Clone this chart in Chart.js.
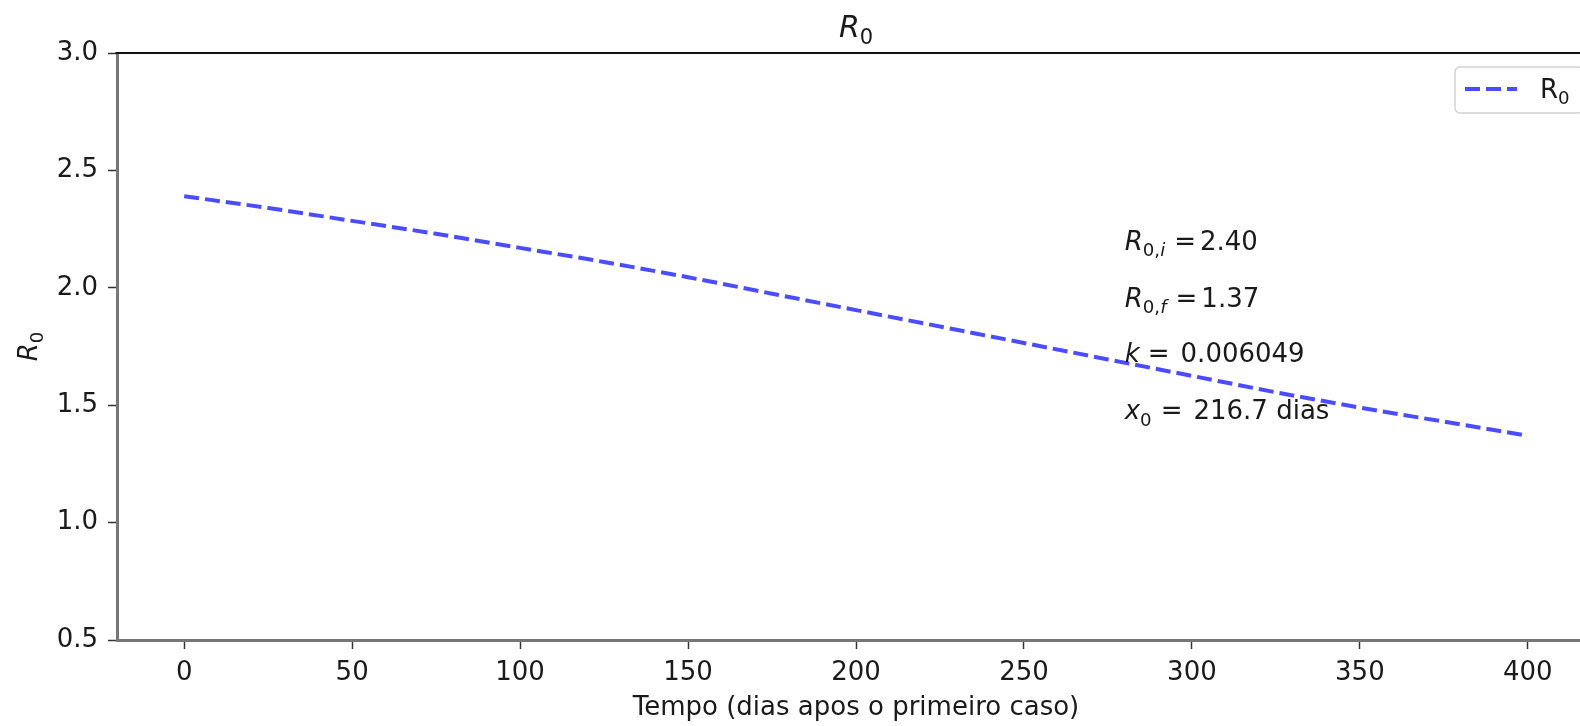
<!DOCTYPE html>
<html>
<head>
<meta charset="utf-8">
<title>R0</title>
<script src="https://cdn.jsdelivr.net/npm/chart.js@4.4.0/dist/chart.umd.min.js"></script>
<style>
    html, body { margin: 0; padding: 0; background: #fff; overflow: hidden; }
    #chart { display: block; }
</style>
</head>
<body>
<canvas id="chart" width="1612" height="726"></canvas>
<script>
// Values
const days = [0, 25, 50, 75, 100, 125, 150, 175, 200, 225, 250, 275, 300, 325, 350, 375, 400];
const r0Values = [2.39, 2.34, 2.285, 2.23, 2.17, 2.11, 2.045, 1.975, 1.905, 1.835, 1.765, 1.695, 1.625, 1.555, 1.49, 1.43, 1.37];
const xTicks = [0, 50, 100, 150, 200, 250, 300, 350, 400];
const yTicks = [0.5, 1.0, 1.5, 2.0, 2.5, 3.0];
const seriesLabel = 'R₀';
const xTitle = 'Tempo (dias apos o primeiro caso)';
const fitValues = ['2.40', '1.37', '0.006049', '216.7 dias'];

const FONT = '"DejaVu Sans"';
const TEXT_COLOR = '#1a1a1a';

// where the fit results sit, in data units
const annoX = 280;
const annoY = [2.16, 1.92, 1.685, 1.44];

// mathtext-like pieces: it = italic, sub = subscript, gap = extra space in px
const annoLines = [
    [{ t: 'R', it: true }, { t: '0,', sub: true }, { t: 'i', it: true, sub: true }, { gap: 9 }, { t: '=' }, { gap: 4 }, { t: fitValues[0] }],
    [{ t: 'R', it: true }, { t: '0,', sub: true }, { t: 'f', it: true, sub: true }, { gap: 9 }, { t: '=' }, { gap: 4 }, { t: fitValues[1] }],
    [{ t: 'k', it: true }, { gap: 8 }, { t: '=' }, { gap: 11 }, { t: fitValues[2] }],
    [{ t: 'x', it: true }, { t: '0', sub: true }, { gap: 9 }, { t: '=' }, { gap: 11 }, { t: fitValues[3] }]
];
const r0Math = [{ t: 'R', it: true }, { t: '0', sub: true }];
const legendMath = [{ t: seriesLabel.charAt(0) }, { t: '0', sub: true }];

function drawRich(ctx, parts, x, y, size, align) {
    const items = parts.map(p => {
        if (p.gap) return { gap: p.gap * size / 26 };
        const sz = p.sub ? size * 0.7 : size;
        const font = (p.it ? 'italic ' : '') + sz + 'px ' + FONT;
        ctx.font = font;
        return { t: p.t, font, width: ctx.measureText(p.t).width, dy: p.sub ? size * 0.24 : 0 };
    });
    const total = items.reduce((s, it) => s + (it.gap || it.width), 0);
    let cx = align === 'center' ? x - total / 2 : x;
    ctx.textAlign = 'left';
    ctx.textBaseline = 'alphabetic';
    items.forEach(it => {
        if (it.gap) { cx += it.gap; return; }
        ctx.font = it.font;
        ctx.fillText(it.t, cx, y + it.dy);
        cx += it.width;
    });
}

// title, y label, top spine, fit text and legend
const decorPlugin = {
    id: 'decor',
    afterDraw(chart) {
        const ctx = chart.ctx;
        const area = chart.chartArea;
        const xs = chart.scales.x;
        const ys = chart.scales.y;
        ctx.save();

        // top spine
        ctx.strokeStyle = '#111';
        ctx.lineWidth = 2;
        ctx.beginPath();
        ctx.moveTo(area.left - 1.5, area.top);
        ctx.lineTo(area.right, area.top);
        ctx.stroke();

        ctx.fillStyle = TEXT_COLOR;

        // title
        drawRich(ctx, r0Math, (area.left + area.right) / 2, 37, 30, 'center');

        // y axis label
        ctx.save();
        ctx.translate(37, (area.top + area.bottom) / 2);
        ctx.rotate(-Math.PI / 2);
        drawRich(ctx, r0Math, 0, 0, 26, 'center');
        ctx.restore();

        // fit results
        annoLines.forEach((line, i) => {
            drawRich(ctx, line, xs.getPixelForValue(annoX), ys.getPixelForValue(annoY[i]), 26, 'left');
        });

        // legend
        const ds = chart.data.datasets[0];
        const bx = area.right - 140, by = area.top + 14, bw = 128, bh = 46;
        ctx.fillStyle = 'rgba(255,255,255,0.8)';
        ctx.strokeStyle = 'rgba(0,0,0,0.18)';
        ctx.lineWidth = 1.5;
        ctx.beginPath();
        ctx.roundRect(bx, by, bw, bh, 5);
        ctx.fill();
        ctx.stroke();
        ctx.strokeStyle = ds.borderColor;
        ctx.lineWidth = ds.borderWidth;
        ctx.setLineDash(ds.borderDash);
        ctx.beginPath();
        ctx.moveTo(bx + 10, by + 22);
        ctx.lineTo(bx + 62, by + 22);
        ctx.stroke();
        ctx.setLineDash([]);
        ctx.fillStyle = TEXT_COLOR;
        drawRich(ctx, legendMath, bx + 85, by + 31, 26, 'left');

        ctx.restore();
    }
};

const canvas = document.getElementById('chart');
new Chart(canvas.getContext('2d'), {
    type: 'line',
    data: {
        datasets: [{
            label: seriesLabel,
            data: days.map((d, i) => ({ x: d, y: r0Values[i] })),
            borderColor: 'rgba(0,0,255,0.7)',
            borderWidth: 4,
            borderDash: [15, 6],
            pointRadius: 0,
            fill: false,
            cubicInterpolationMode: 'monotone'
        }]
    },
    options: {
        responsive: false,
        animation: false,
        devicePixelRatio: 1,
        layout: { padding: { left: 0, top: 53, right: 17, bottom: 0 } },
        plugins: {
            legend: { display: false },
            title: { display: false },
            tooltip: { enabled: false }
        },
        scales: {
            x: {
                type: 'linear',
                min: -20,
                max: 420,
                afterBuildTicks: scale => { scale.ticks = xTicks.map(v => ({ value: v })); },
                afterFit: scale => { scale.height = 86; },
                grid: { drawOnChartArea: false, tickLength: 9, tickColor: '#333', tickWidth: 1.5 },
                border: { color: '#777', width: 3 },
                ticks: {
                    font: { family: 'DejaVu Sans', size: 26 },
                    color: TEXT_COLOR,
                    padding: 9,
                    maxRotation: 0,
                    autoSkip: false
                },
                title: {
                    display: true,
                    text: xTitle,
                    font: { family: 'DejaVu Sans', size: 26 },
                    color: TEXT_COLOR,
                    padding: { top: 0, bottom: 2 }
                }
            },
            y: {
                type: 'linear',
                min: 0.5,
                max: 3.0,
                afterBuildTicks: scale => { scale.ticks = yTicks.map(v => ({ value: v })); },
                afterFit: scale => { scale.width = 117; },
                grid: { drawOnChartArea: false, tickLength: 9, tickColor: '#333', tickWidth: 1.5 },
                border: { color: '#777', width: 3 },
                ticks: {
                    font: { family: 'DejaVu Sans', size: 26 },
                    color: TEXT_COLOR,
                    padding: 10,
                    callback: v => v.toFixed(1)
                }
            }
        }
    },
    plugins: [decorPlugin]
});
</script>
</body>
</html>
